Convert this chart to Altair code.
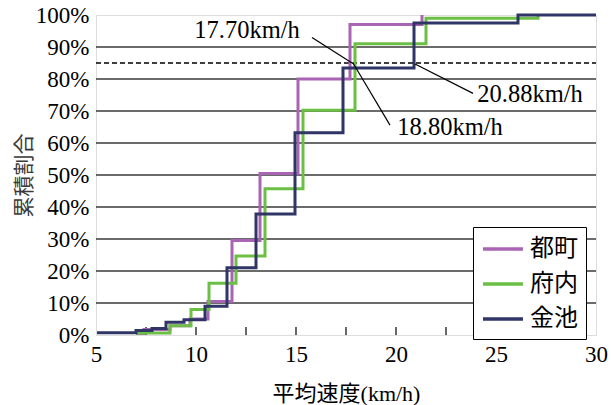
import altair as alt
import pandas as pd

# ---------------- data ----------------
series_names = ["都町", "府内", "金池"]
series_colors = ["#a965b3", "#6cbf45", "#2f3566"]

tocho_x = [7.0, 7.4, 8.7, 9.7, 10.6, 11.8, 13.2, 15.1, 17.7, 21.3]
tocho_y = [0.5, 1.7, 2.9, 5.0, 10.5, 29.5, 50.5, 80.0, 97.0, 100.0]

funai_x = [7.0, 8.7, 9.75, 10.65, 12.0, 13.45, 15.35, 17.95, 21.5, 27.1]
funai_y = [0.6, 2.9, 8.0, 16.2, 24.7, 45.7, 70.2, 91.0, 99.0, 100.0]

kanaike_x = [5.05, 7.0, 7.8, 8.5, 9.4, 10.45, 11.55, 13.0, 14.95, 17.35, 20.9, 26.1, 30.0]
kanaike_y = [0.7, 1.4, 2.0, 4.0, 4.8, 9.0, 21.0, 37.8, 63.2, 83.4, 97.5, 100.0, 100.0]

x_label_values = [5, 10, 15, 20, 25, 30]
x_minor_ticks = [7.5, 10, 12.5, 15, 17.5, 20, 22.5, 25, 27.5]
y_values = [0, 10, 20, 30, 40, 50, 60, 70, 80, 90, 100]
grid_values = [10, 20, 30, 40, 50, 60, 70, 80, 90]

threshold = [85]

ann_labels = ["17.70km/h", "18.80km/h", "20.88km/h"]
ann_text_x = [12.55, 22.7, 26.7]
ann_text_y = [95.0, 64.6, 75.0]
ann_x1 = [15.8, 17.85, 20.95]
ann_y1 = [93.0, 85.0, 84.7]
ann_x2 = [17.8, 19.7, 23.85]
ann_y2 = [85.0, 65.6, 75.5]

# ---------------- tables ----------------
rows = []
for name, xs, ys in zip(series_names, [tocho_x, funai_x, kanaike_x], [tocho_y, funai_y, kanaike_y]):
    for i, (a, b) in enumerate(zip(xs, ys)):
        rows.append({"series": name, "speed": a, "share": b, "order": i})
df = pd.DataFrame(rows)

ann_df = pd.DataFrame({
    "label": ann_labels, "tx": ann_text_x, "ty": ann_text_y,
    "x1": ann_x1, "y1": ann_y1, "x2": ann_x2, "y2": ann_y2,
})
thr_df = pd.DataFrame({"y": threshold, "x1": [5], "x2": [30]})
tick_df = pd.DataFrame({"x": x_minor_ticks})
grid_df = pd.DataFrame({"y": grid_values, "x1": [5] * len(grid_values), "x2": [30] * len(grid_values)})

SERIF = "Liberation Serif, Times New Roman, Times, serif"
CJK = "Noto Sans CJK JP"
MIXED = "Liberation Serif, Times New Roman, Noto Sans CJK JP, serif"

xscale = alt.Scale(domain=[5, 30], nice=False, zero=False)
yscale = alt.Scale(domain=[0, 100], nice=False)

xaxis = alt.Axis(values=x_label_values, title="平均速度(km/h)", grid=False,
                 tickSize=0, domain=False, labelFont=SERIF, labelFontSize=23,
                 labelColor="black", labelPadding=8, titleFont=MIXED,
                 titleFontSize=22, titleFontWeight="normal", titleColor="black",
                 titlePadding=17, labelFlush=False, labelOverlap=False)
yaxis = alt.Axis(values=y_values, title="累積割合", grid=False,
                 tickSize=0, domain=False, labelOverlap=False,
                 labelExpr="datum.value + '%'", labelFont=SERIF, labelFontSize=23,
                 labelColor="black", labelPadding=7, titleFont=CJK, titleFontSize=21,
                 titleFontWeight="normal", titleColor="#3a3a3a", titlePadding=1)

grid = alt.Chart(grid_df).mark_rule(color="#3a3a3a", strokeWidth=1.4).encode(
    x=alt.X("x1:Q", scale=xscale, axis=xaxis), x2="x2:Q",
    y=alt.Y("y:Q", scale=yscale, axis=yaxis)
)

lines = alt.Chart(df).mark_line(interpolate="step-after", strokeWidth=3).encode(
    x=alt.X("speed:Q", scale=xscale, axis=xaxis),
    y=alt.Y("share:Q", scale=yscale, axis=yaxis),
    color=alt.Color("series:N",
                    scale=alt.Scale(domain=series_names, range=series_colors),
                    sort=series_names,
                    legend=alt.Legend(title=None, orient="none", legendX=377, legendY=212,
                                      symbolType="M-1,0H2.33", symbolSize=576,
                                      symbolStrokeWidth=3.5, labelFont=CJK, labelFontSize=24,
                                      labelColor="black", labelOffset=21, rowPadding=9,
                                      padding=8, strokeColor="black", fillColor="white",
                                      labelLimit=200)),
    order="order:Q",
    detail="series:N",
)

dash = alt.Chart(thr_df).mark_rule(color="black", strokeWidth=1.4, strokeDash=[5, 3]).encode(
    x=alt.X("x1:Q", scale=xscale, axis=xaxis), x2="x2:Q",
    y=alt.Y("y:Q", scale=yscale, axis=yaxis)
)

ticks = alt.Chart(tick_df).mark_rule(color="black", strokeWidth=1.2).encode(
    x=alt.X("x:Q", scale=xscale, axis=xaxis), y=alt.value(320), y2=alt.value(312)
)

leaders = alt.Chart(ann_df).mark_rule(color="black", strokeWidth=1.2).encode(
    x=alt.X("x1:Q", scale=xscale, axis=xaxis), x2="x2:Q",
    y=alt.Y("y1:Q", scale=yscale, axis=yaxis), y2="y2:Q"
)

texts = alt.Chart(ann_df).mark_text(font=SERIF, fontSize=24.5, color="black",
                                    align="center", baseline="middle").encode(
    x=alt.X("tx:Q", scale=xscale, axis=xaxis),
    y=alt.Y("ty:Q", scale=yscale, axis=yaxis),
    text="label:N"
)

chart = alt.layer(grid, dash, ticks, lines, leaders, texts).properties(
    width=500, height=320,
    autosize=alt.AutoSizeParams(type="none"),
    padding={"left": 96, "top": 15, "right": 15, "bottom": 70},
).configure_view(stroke="black", strokeWidth=2).configure_axis(
    labelFont=SERIF, labelOverlap=False
).configure(background="white")

chart.save("out.html", embed_options={"renderer": "svg", "actions": False})
